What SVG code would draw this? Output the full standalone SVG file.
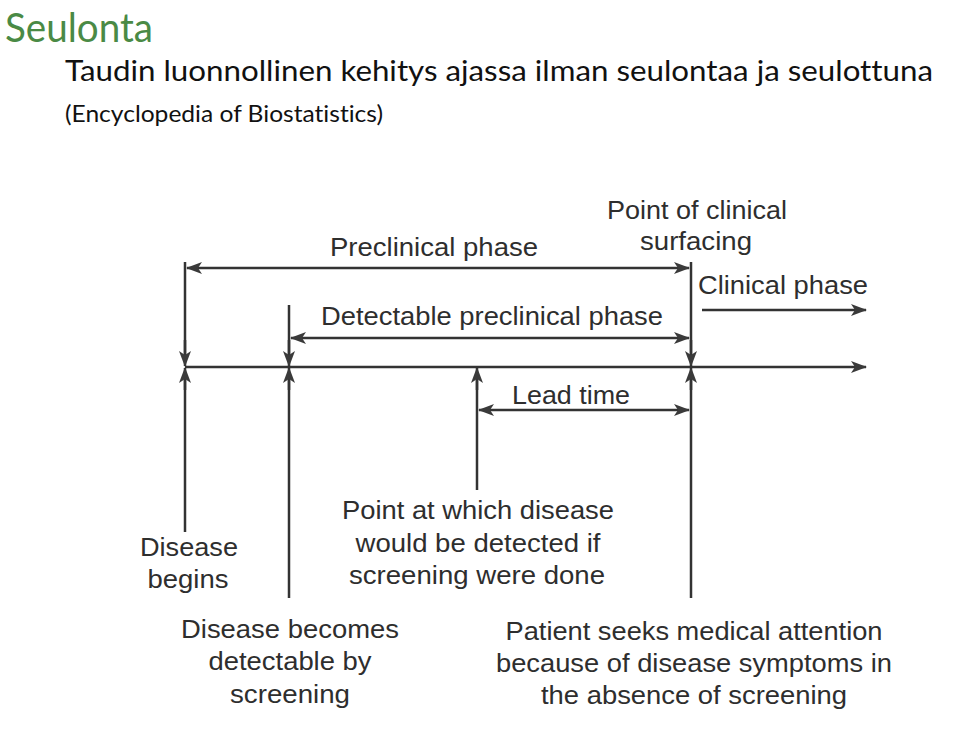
<svg xmlns="http://www.w3.org/2000/svg" width="960" height="736" viewBox="0 0 960 736">
<defs>
<marker id="ah" markerUnits="userSpaceOnUse" markerWidth="16" markerHeight="12" viewBox="0 0 16 12" refX="15" refY="6" orient="auto-start-reverse">
<path d="M0,0 L16,6 L0,12 L4,6 z" fill="#3a3a3a"/>
</marker>
</defs>
<style>
.t1{font-family:Lato,"DejaVu Sans",sans-serif;font-variant-ligatures:none}
.lbl{font-family:"Liberation Sans",Arial,sans-serif;font-size:25px;fill:#2e2e2e;text-anchor:middle}
.ln{stroke:#333;stroke-width:2.5;fill:none}
.ar{stroke:#333;stroke-width:2.5;fill:none;marker-end:url(#ah)}
.ar2{stroke:#333;stroke-width:2.5;fill:none;marker-start:url(#ah);marker-end:url(#ah)}
</style>
<rect width="960" height="736" fill="#ffffff"/>
<g id="title">
<text class="t1" x="5" y="42" font-size="41" fill="#4a8a45" textLength="148" lengthAdjust="spacingAndGlyphs">Seulonta</text>
<text class="t1" x="65" y="81" font-size="28" fill="#111" textLength="868" lengthAdjust="spacingAndGlyphs">Taudin luonnollinen kehitys ajassa ilman seulontaa ja seulottuna</text>
<text class="t1" x="65" y="122" font-size="23" fill="#111" textLength="318" lengthAdjust="spacingAndGlyphs">(Encyclopedia of Biostatistics)</text>
</g>
<g id="connectors">
<line class="ln" x1="185" y1="262" x2="185" y2="357"/>
<line class="ar" x1="185" y1="340" x2="185" y2="366"/>
<line class="ln" x1="185" y1="532" x2="185" y2="380"/>
<line class="ar" x1="185" y1="390" x2="185" y2="368"/>
<line class="ln" x1="289" y1="305" x2="289" y2="357"/>
<line class="ar" x1="289" y1="340" x2="289" y2="366"/>
<line class="ln" x1="289" y1="598" x2="289" y2="380"/>
<line class="ar" x1="289" y1="390" x2="289" y2="368"/>
<line class="ln" x1="477" y1="490" x2="477" y2="380"/>
<line class="ar" x1="477" y1="390" x2="477" y2="368"/>
<line class="ln" x1="691" y1="262" x2="691" y2="357"/>
<line class="ar" x1="691" y1="340" x2="691" y2="366"/>
<line class="ln" x1="691" y1="598" x2="691" y2="380"/>
<line class="ar" x1="691" y1="390" x2="691" y2="368"/>
<line class="ar" x1="185" y1="367" x2="866" y2="367"/>
<line class="ar2" x1="187" y1="268" x2="689" y2="268"/>
<line class="ar2" x1="291" y1="338" x2="689" y2="338"/>
<line class="ar" x1="702" y1="310" x2="866" y2="310"/>
<line class="ar2" x1="479" y1="410" x2="689" y2="410"/>
</g>
<g id="preclinical"><text class="lbl" x="434" y="256" textLength="208" lengthAdjust="spacingAndGlyphs">Preclinical phase</text></g>
<g id="surfacing">
<text class="lbl" x="697" y="219" textLength="180" lengthAdjust="spacingAndGlyphs">Point of clinical</text>
<text class="lbl" x="696" y="250" textLength="112" lengthAdjust="spacingAndGlyphs">surfacing</text>
</g>
<g id="clinical"><text class="lbl" x="783" y="294" textLength="170" lengthAdjust="spacingAndGlyphs">Clinical phase</text></g>
<g id="detectable"><text class="lbl" x="492" y="325" textLength="342" lengthAdjust="spacingAndGlyphs">Detectable preclinical phase</text></g>
<g id="leadtime"><text class="lbl" x="571" y="404" textLength="118" lengthAdjust="spacingAndGlyphs">Lead time</text></g>
<g id="screenpoint">
<text class="lbl" x="478" y="519" textLength="272" lengthAdjust="spacingAndGlyphs">Point at which disease</text>
<text class="lbl" x="478" y="552" textLength="245" lengthAdjust="spacingAndGlyphs">would be detected if</text>
<text class="lbl" x="477" y="584" textLength="256" lengthAdjust="spacingAndGlyphs">screening were done</text>
</g>
<g id="begins">
<text class="lbl" x="189" y="556" textLength="98" lengthAdjust="spacingAndGlyphs">Disease</text>
<text class="lbl" x="188" y="588" textLength="81" lengthAdjust="spacingAndGlyphs">begins</text>
</g>
<g id="detectableby">
<text class="lbl" x="290" y="638" textLength="218" lengthAdjust="spacingAndGlyphs">Disease becomes</text>
<text class="lbl" x="290" y="670" textLength="163" lengthAdjust="spacingAndGlyphs">detectable by</text>
<text class="lbl" x="290" y="703" textLength="120" lengthAdjust="spacingAndGlyphs">screening</text>
</g>
<g id="patient">
<text class="lbl" x="694" y="640" textLength="377" lengthAdjust="spacingAndGlyphs">Patient seeks medical attention</text>
<text class="lbl" x="694" y="672" textLength="396" lengthAdjust="spacingAndGlyphs">because of disease symptoms in</text>
<text class="lbl" x="694" y="704" textLength="306" lengthAdjust="spacingAndGlyphs">the absence of screening</text>
</g>
</svg>
